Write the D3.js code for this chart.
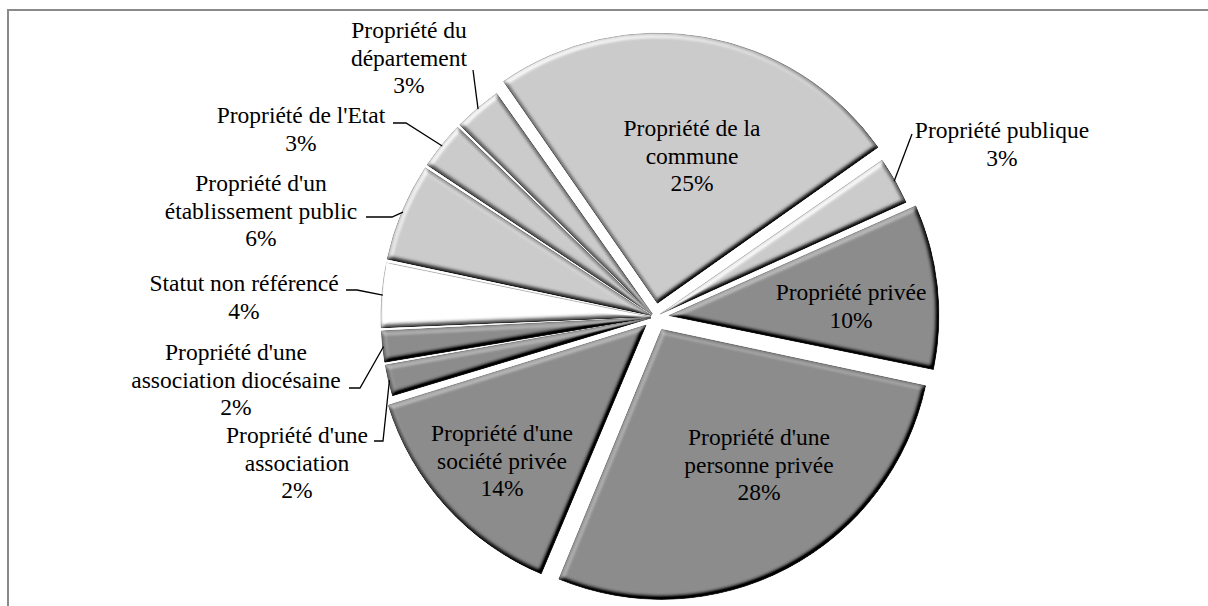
<!DOCTYPE html>
<html><head><meta charset="utf-8">
<script src="https://cdn.jsdelivr.net/npm/d3@7"></script>
<style>
html,body{margin:0;padding:0;background:#fff;}
svg{display:block;}
</style></head>
<body>
<svg id="chart" width="1208" height="606"></svg>
<script>
// ---- data ----
const categories = [
  "Propriété de la commune",
  "Propriété publique",
  "Propriété privée",
  "Propriété d'une personne privée",
  "Propriété d'une société privée",
  "Propriété d'une association",
  "Propriété d'une association diocésaine",
  "Statut non référencé",
  "Propriété d'un établissement public",
  "Propriété de l'Etat",
  "Propriété du département"
];
const values = [25, 3, 10, 28, 14, 2, 2, 4, 6, 3, 3];
const labelLines = [
  ["Propriété de la", "commune"],
  ["Propriété publique"],
  ["Propriété privée"],
  ["Propriété d'une", "personne privée"],
  ["Propriété d'une", "société privée"],
  ["Propriété d'une", "association"],
  ["Propriété d'une", "association diocésaine"],
  ["Statut non référencé"],
  ["Propriété d'un", "établissement public"],
  ["Propriété de l'Etat"],
  ["Propriété du", "département"]
];
const shades = ["#cbcbcb","#cbcbcb","#8c8c8c","#8c8c8c","#8c8c8c","#8c8c8c","#8c8c8c","#ffffff","#cbcbcb","#cbcbcb","#cbcbcb"];

// ---- layout ----
const W = 1208, H = 606;
const cx = 655, cy = 317, R = 270;
const startDeg = -35;
const explode = [14, 6, 14, 14, 12, 4, 4, 4, 4, 4, 4];
const fontSize = 23.5, lineH = 27.5;
const FONT = "'Liberation Serif', 'Times New Roman', 'DejaVu Serif', serif";
// label placement: centre x and first-line y; outside labels also get a leader start
const labelLayout = [
  {inside:true, x:692, y:128},
  {x:1002, y:130, lead:[[912,134]]},
  {inside:true, x:851, y:292},
  {inside:true, x:759, y:437},
  {inside:true, x:502, y:433},
  {x:297, y:435, lead:[[374,441],[383,441]]},
  {x:236, y:352, lead:[[349,388],[360,388]]},
  {x:244, y:283, lead:[[346,290],[357,290]]},
  {x:261, y:183, lead:[[366,217],[392,217]]},
  {x:301, y:115, lead:[[393,123],[406,123]]},
  {x:409, y:30, lead:[[473,70]]}
];

const svg = d3.select("#chart");
const defs = svg.append("defs");
const f = defs.append("filter").attr("id","bevel")
  .attr("x","-10%").attr("y","-10%").attr("width","120%").attr("height","120%")
  .attr("color-interpolation-filters","sRGB");
f.append("feGaussianBlur").attr("in","SourceAlpha").attr("stdDeviation",2.6).attr("result","blur");
const dl = f.append("feDiffuseLighting").attr("in","blur").attr("surfaceScale",5)
  .attr("diffuseConstant",1).attr("lighting-color","#ffffff").attr("result","light");
dl.append("feDistantLight").attr("azimuth",235).attr("elevation",55);
f.append("feComposite").attr("in","SourceGraphic").attr("in2","light").attr("operator","arithmetic")
  .attr("k1",0).attr("k2",1).attr("k3",0.9).attr("k4",-0.9*Math.sin(55*Math.PI/180)).attr("result","lit");
f.append("feComposite").attr("in","lit").attr("in2","SourceAlpha").attr("operator","in");

// frame
svg.append("rect").attr("x",8).attr("y",10).attr("width",1260).attr("height",700)
  .attr("fill","none").attr("stroke","#8a8a8a").attr("stroke-width",2);

const rad = Math.PI/180;
const pie = d3.pie().sort(null).value(d=>d)
  .startAngle(startDeg*rad).endAngle((startDeg+360)*rad);
const arcs = pie(values);
const arc = d3.arc().innerRadius(0).outerRadius(R).padAngle(2.4/R).padRadius(R);

const g = svg.append("g").attr("transform",`translate(${cx},${cy})`);
const slices = g.selectAll("g.slice").data(arcs).enter().append("g")
  .attr("class","slice")
  .attr("transform",(d,i)=>{
    const a=(d.startAngle+d.endAngle)/2;
    return `translate(${explode[i]*Math.sin(a)},${-explode[i]*Math.cos(a)})`;
  });
slices.append("path")
  .attr("d",arc)
  .attr("fill",(d,i)=>shades[i])
  .attr("stroke",(d,i)=>d3.color(shades[i]).darker(0.6))
  .attr("stroke-width",0.8)
  .attr("filter","url(#bevel)");

// leader lines
arcs.forEach((d,i)=>{
  const L = labelLayout[i];
  if (L.inside) return;
  const a=(d.startAngle+d.endAngle)/2;
  const rr = R + explode[i] - 1;
  const end = [cx + rr*Math.sin(a), cy - rr*Math.cos(a)];
  const pts = L.lead.concat([end]);
  svg.append("path").attr("d", d3.line()(pts)).attr("fill","none")
    .attr("stroke","#000").attr("stroke-width",1.3);
});

// labels
arcs.forEach((d,i)=>{
  const L = labelLayout[i];
  const lines = labelLines[i].concat([d3.format(".0f")(values[i])+"%"]);
  const t = svg.append("text").attr("text-anchor","middle")
    .attr("font-family",FONT).attr("font-size",fontSize).attr("fill","#000");
  lines.forEach((s,k)=>{
    t.append("tspan").attr("x",L.x).attr("y",L.y + k*lineH).attr("dy","0.35em").text(s);
  });
});
</script>
</body></html>
